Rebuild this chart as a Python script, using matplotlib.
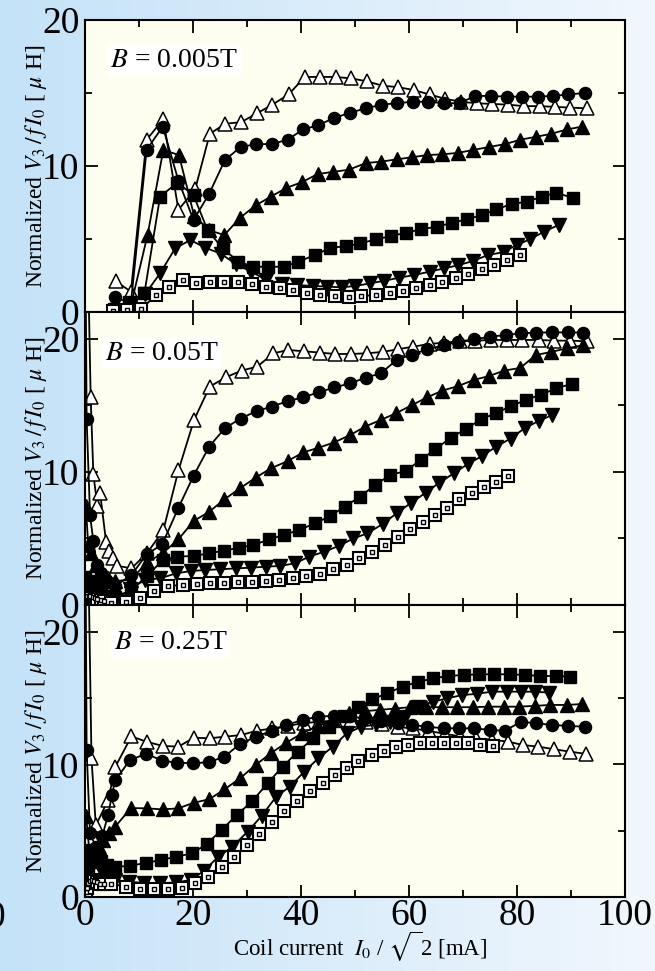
import numpy as np
import matplotlib
matplotlib.use('Agg')
import matplotlib.pyplot as plt
from matplotlib.ticker import MultipleLocator

plt.rcParams['font.family'] = ['Liberation Serif', 'DejaVu Serif']
plt.rcParams['mathtext.fontset'] = 'stix'

# ---------------- Panel 1 : B = 0.005 T ----------------
p1_ot_x = [5.7, 8.5, 11.4, 14.5, 17.3, 20.4, 23.1, 26.0, 28.9, 31.8, 34.7, 37.7, 40.7, 43.5, 46.4, 49.3, 52.2, 55.1, 58.0, 60.9, 63.8, 66.7, 69.6, 72.5, 75.4, 78.4, 81.3, 84.3, 87.0, 89.9, 92.9]
p1_ot_y = [2.1, 1.4, 11.8, 13.2, 7.0, 8.4, 12.2, 12.9, 13.0, 13.6, 14.2, 14.9, 16.1, 16.1, 16.1, 16.0, 15.8, 15.5, 15.4, 15.2, 14.9, 14.6, 14.4, 14.3, 14.25, 14.2, 14.1, 14.1, 14.05, 14.0, 13.95]
p1_fc_x = [5.6, 8.5, 11.4, 14.4, 17.3, 20.1, 23.0, 25.9, 28.8, 31.7, 34.6, 37.5, 40.4, 43.2, 46.2, 49.1, 52.0, 54.9, 57.7, 60.7, 63.6, 66.5, 69.4, 72.2, 75.1, 78.1, 80.9, 83.8, 86.7, 89.5, 92.5]
p1_fc_y = [1.0, 0.6, 11.1, 12.7, 9.0, 6.3, 8.1, 10.4, 11.3, 11.5, 11.5, 11.8, 12.5, 12.8, 13.3, 13.65, 13.95, 14.2, 14.3, 14.4, 14.4, 14.3, 14.3, 14.8, 14.8, 14.75, 14.75, 14.75, 14.8, 14.9, 15.0]
p1_ft_x = [5.6, 8.6, 11.6, 14.5, 17.4, 20.2, 23.0, 25.8, 28.7, 31.6, 34.4, 37.3, 40.2, 43.1, 46.0, 48.9, 52.0, 54.8, 57.7, 60.5, 63.4, 66.2, 69.1, 71.9, 74.8, 77.8, 80.6, 83.5, 86.3, 89.2, 92.1]
p1_ft_y = [0.3, 0.6, 5.3, 11.1, 10.75, 6.6, 5.6, 5.27, 6.45, 7.3, 7.9, 8.5, 8.9, 9.45, 9.6, 9.75, 10.2, 10.3, 10.45, 10.6, 10.75, 10.8, 10.9, 11.1, 11.3, 11.5, 11.8, 12.0, 12.2, 12.5, 12.7]
p1_fs_x = [5.4, 8.2, 11.0, 13.9, 17.1, 20.1, 22.7, 25.5, 28.4, 31.2, 33.9, 36.9, 39.5, 42.6, 45.4, 48.3, 51.0, 53.9, 56.7, 59.4, 62.2, 65.1, 67.9, 70.7, 73.5, 76.2, 79.0, 81.8, 84.6, 87.3, 90.4]
p1_fs_y = [0.2, 0.7, 1.28, 7.9, 8.86, 8.0, 5.6, 4.36, 3.45, 3.1, 3.1, 3.1, 3.45, 3.9, 4.4, 4.5, 4.7, 4.98, 5.2, 5.43, 5.66, 5.84, 6.1, 6.35, 6.64, 7.03, 7.4, 7.55, 7.9, 8.17, 7.8]
p1_fd_x = [5.5, 8.3, 11.1, 13.9, 16.7, 19.5, 22.3, 25.1, 27.9, 30.8, 33.6, 36.4, 39.2, 42.3, 44.8, 47.5, 50.0, 52.8, 55.4, 58.2, 60.9, 63.8, 66.5, 69.1, 71.9, 74.6, 77.5, 80.0, 82.4, 85.0, 87.7]
p1_fd_y = [0.0, 0.5, 1.2, 2.65, 4.36, 4.93, 4.4, 4.0, 3.3, 2.76, 2.19, 1.95, 1.85, 1.78, 1.74, 1.69, 1.78, 1.96, 2.14, 2.35, 2.53, 2.76, 2.99, 3.2, 3.5, 3.9, 4.1, 4.6, 4.98, 5.5, 5.96]
p1_ds_x = [5.1, 7.7, 10.4, 13.1, 15.6, 18.1, 20.6, 23.1, 25.7, 28.3, 30.9, 33.5, 36.1, 38.6, 41.2, 43.6, 46.3, 48.8, 51.2, 53.8, 56.4, 58.8, 61.3, 63.8, 66.2, 68.7, 71.0, 73.5, 75.8, 78.2, 80.6]
p1_ds_y = [0.1, 0.14, 0.18, 1.16, 1.74, 2.19, 2.0, 2.08, 2.08, 2.03, 1.9, 1.74, 1.62, 1.5, 1.28, 1.16, 1.1, 1.05, 1.1, 1.16, 1.28, 1.44, 1.62, 1.85, 2.08, 2.3, 2.6, 2.92, 3.2, 3.56, 3.9]

# ---------------- Panel 2 : B = 0.05 T ----------------
p2_ot_x = [0.55, 1.05, 1.55, 2.3, 2.8, 3.9, 4.5, 5.1, 5.9, 8.6, 11.5, 14.5, 17.3, 20.2, 23.1, 26.1, 29.0, 31.9, 34.9, 37.6, 40.6, 43.5, 46.3, 49.2, 52.2, 55.1, 57.9, 60.8, 63.8, 66.5, 69.4, 72.3, 75.2, 78.1, 81.0, 84.0, 86.9, 89.9, 92.9]
p2_ot_y = [26.0, 15.6, 9.8, 7.45, 8.4, 4.75, 4.08, 3.5, 2.95, 2.75, 3.9, 5.6, 10.1, 13.9, 16.4, 17.1, 17.6, 17.9, 18.9, 19.15, 19.05, 18.95, 18.85, 18.85, 18.9, 19.0, 19.2, 19.4, 19.6, 19.7, 19.8, 19.85, 19.9, 19.9, 19.9, 19.9, 19.85, 19.85, 19.8]
p2_fc_x = [0.1, 0.3, 0.93, 1.54, 2.2, 3.0, 4.0, 5.5, 8.6, 11.4, 14.3, 17.3, 20.1, 23.0, 25.9, 28.8, 31.8, 34.6, 37.5, 40.4, 43.3, 46.2, 49.1, 52.0, 54.8, 57.7, 60.5, 63.4, 66.4, 69.1, 72.1, 75.0, 77.9, 80.7, 83.6, 86.5, 89.4, 92.3]
p2_fc_y = [26.0, 14.0, 6.76, 4.8, 3.0, 2.4, 1.8, 1.4, 2.25, 3.8, 4.55, 7.3, 9.7, 11.9, 13.27, 14.0, 14.56, 14.9, 15.3, 15.6, 15.97, 16.34, 16.64, 17.07, 17.4, 18.4, 18.8, 19.2, 19.5, 19.77, 19.95, 20.14, 20.27, 20.4, 20.45, 20.47, 20.47, 20.45]
p2_ft_x = [0.15, 0.6, 1.2, 2.0, 3.0, 4.2, 5.6, 8.5, 11.5, 14.4, 17.3, 20.1, 23.0, 25.8, 28.7, 31.6, 34.4, 37.5, 40.4, 43.2, 46.1, 49.1, 51.9, 54.8, 57.6, 60.5, 63.4, 66.2, 69.1, 72.0, 74.9, 77.6, 80.6, 83.5, 86.3, 89.2, 92.2]
p2_ft_y = [7.4, 4.5, 3.9, 3.0, 2.5, 2.0, 1.8, 1.9, 3.2, 3.9, 4.93, 6.3, 7.0, 7.93, 8.76, 9.56, 10.26, 10.8, 11.46, 11.8, 12.2, 12.76, 13.4, 13.9, 14.4, 15.0, 15.6, 16.1, 16.44, 16.9, 17.2, 17.6, 17.8, 18.77, 19.0, 19.27, 19.5]
p2_fs_x = [0.05, 0.5, 1.2, 2.2, 3.5, 5.5, 8.5, 11.5, 14.4, 17.1, 20.1, 23.0, 25.7, 28.5, 31.2, 34.1, 36.9, 39.6, 42.6, 45.4, 48.1, 50.9, 53.7, 56.5, 59.4, 62.2, 64.9, 67.7, 70.5, 73.3, 76.1, 78.9, 81.7, 84.4, 87.3, 90.1]
p2_fs_y = [2.1, 1.6, 1.2, 0.9, 0.7, 0.6, 1.1, 2.18, 3.38, 3.63, 3.68, 3.88, 4.08, 4.3, 4.5, 4.93, 5.26, 5.63, 6.13, 6.68, 7.38, 8.13, 9.0, 9.76, 10.06, 10.9, 11.7, 12.56, 13.2, 13.94, 14.4, 14.94, 15.4, 15.8, 16.27, 16.6]
p2_fd_x = [0.3, 1.0, 2.0, 3.2, 4.5, 5.8, 8.4, 11.1, 13.9, 16.9, 19.6, 22.3, 25.0, 27.9, 30.7, 33.5, 36.1, 38.9, 41.5, 44.3, 47.1, 49.7, 52.3, 55.1, 57.7, 60.4, 63.1, 65.6, 68.3, 70.9, 73.6, 76.1, 78.8, 81.4, 84.1, 86.5]
p2_fd_y = [1.3, 1.7, 1.4, 1.0, 0.6, 0.4, 1.2, 1.9, 2.0, 2.38, 2.55, 2.63, 2.68, 2.75, 2.8, 2.88, 2.93, 3.13, 3.63, 4.0, 4.45, 5.0, 5.38, 6.08, 6.88, 7.68, 8.43, 9.18, 9.89, 10.59, 11.2, 11.88, 12.5, 13.27, 13.84, 14.26]
p2_ds_x = [0.15, 0.4, 0.7, 1.0, 1.4, 1.8, 2.3, 2.9, 3.6, 4.9, 7.6, 10.2, 12.8, 15.4, 18.1, 20.7, 23.1, 25.8, 28.4, 30.9, 33.5, 35.9, 38.5, 41.0, 43.5, 46.0, 48.5, 50.8, 53.2, 55.6, 57.9, 60.2, 62.5, 64.8, 67.1, 69.3, 71.6, 73.9, 76.2, 78.4]
p2_ds_y = [0.8, 0.7, 0.6, 0.7, 0.6, 0.5, 0.45, 0.35, 0.3, 0.13, 0.2, 0.5, 1.05, 1.43, 1.5, 1.58, 1.63, 1.67, 1.7, 1.75, 1.8, 1.88, 2.0, 2.2, 2.33, 2.68, 3.0, 3.5, 4.0, 4.5, 5.08, 5.68, 6.25, 6.76, 7.26, 7.93, 8.39, 8.84, 9.26, 9.68]

# ---------------- Panel 3 : B = 0.25 T ----------------
p3_ot_x = [0.6, 1.2, 2.0, 4.3, 5.6, 8.6, 11.4, 14.4, 17.3, 20.2, 23.1, 25.9, 28.9, 31.8, 34.7, 37.6, 40.5, 43.4, 46.3, 49.2, 52.1, 55.0, 57.9, 60.8, 63.7, 66.6, 69.5, 72.4, 75.3, 78.4, 81.1, 83.9, 86.9, 89.8, 92.8]
p3_ot_y = [26.0, 10.45, 5.4, 7.3, 9.8, 12.1, 11.7, 11.38, 11.33, 12.0, 11.96, 12.08, 12.2, 12.53, 12.7, 12.9, 13.1, 13.2, 13.3, 13.3, 13.2, 13.0, 12.8, 12.7, 12.5, 12.3, 12.1, 11.95, 11.85, 11.7, 11.45, 11.33, 11.13, 10.95, 10.78]
p3_fc_x = [0.1, 0.3, 0.93, 2.0, 3.2, 4.3, 5.0, 5.6, 8.3, 11.3, 14.3, 17.1, 20.0, 22.9, 25.8, 28.7, 31.7, 34.6, 37.3, 40.3, 43.2, 46.1, 49.0, 51.9, 54.9, 58.0, 60.5, 63.4, 66.4, 69.3, 72.1, 75.0, 77.8, 80.7, 83.6, 86.5, 89.5, 92.5]
p3_fc_y = [26.0, 11.08, 4.8, 3.8, 4.6, 6.2, 7.7, 8.8, 10.3, 10.8, 10.27, 10.12, 10.08, 10.15, 10.57, 11.53, 12.08, 12.53, 12.96, 13.34, 13.59, 13.65, 13.6, 13.45, 13.25, 13.1, 12.96, 12.83, 12.71, 12.71, 12.71, 12.58, 12.53, 13.2, 13.09, 12.96, 12.89, 12.83]
p3_ft_x = [0.2, 0.8, 1.6, 2.5, 3.4, 4.5, 5.6, 8.5, 11.4, 14.4, 17.3, 20.1, 23.0, 25.8, 28.7, 31.6, 34.4, 37.3, 40.2, 43.1, 46.0, 48.9, 51.8, 54.6, 57.4, 60.2, 63.1, 66.1, 68.8, 71.8, 74.7, 77.5, 80.4, 83.3, 86.2, 89.2, 92.1]
p3_ft_y = [6.1, 3.5, 3.0, 3.8, 4.3, 4.8, 5.3, 6.7, 6.68, 6.6, 6.68, 7.1, 7.36, 8.1, 8.94, 9.95, 10.83, 11.63, 12.33, 12.89, 13.34, 13.89, 14.0, 14.1, 14.2, 14.3, 14.3, 14.3, 14.3, 14.3, 14.34, 14.34, 14.34, 14.4, 14.47, 14.47, 14.54]
p3_fs_x = [0.05, 0.6, 1.3, 2.1, 3.0, 4.0, 5.6, 8.3, 11.3, 14.1, 16.9, 19.9, 22.5, 25.3, 28.1, 31.0, 33.8, 36.6, 39.4, 42.3, 45.1, 47.9, 50.6, 53.2, 56.0, 58.8, 61.7, 64.5, 67.3, 70.2, 73.0, 75.8, 78.7, 81.5, 84.3, 87.2, 89.9]
p3_fs_y = [1.66, 2.0, 2.6, 3.0, 2.7, 2.4, 2.28, 2.34, 2.58, 2.79, 3.04, 3.29, 3.99, 5.05, 6.18, 7.23, 8.57, 9.82, 10.95, 11.96, 12.83, 13.6, 14.3, 14.9, 15.35, 15.85, 16.2, 16.48, 16.65, 16.73, 16.78, 16.78, 16.78, 16.73, 16.65, 16.65, 16.6]
p3_fd_x = [0.3, 1.0, 1.8, 2.7, 3.6, 4.5, 5.6, 8.2, 11.0, 13.9, 16.8, 19.6, 22.0, 24.7, 27.3, 30.1, 32.7, 35.4, 37.9, 40.6, 43.2, 45.9, 48.5, 51.2, 53.9, 56.5, 59.3, 61.7, 64.5, 67.1, 69.9, 72.5, 75.3, 78.1, 80.7, 83.3, 85.9]
p3_fd_y = [2.5, 3.5, 3.0, 2.2, 1.8, 1.5, 1.28, 1.15, 1.05, 1.03, 1.1, 1.28, 1.96, 3.04, 3.79, 4.92, 6.1, 7.56, 8.31, 9.44, 10.45, 11.33, 12.34, 12.83, 13.0, 13.2, 13.59, 14.34, 14.72, 14.97, 15.22, 15.3, 15.47, 15.47, 15.47, 15.47, 15.4]
p3_ds_x = [0.1, 0.3, 0.6, 0.9, 1.3, 1.7, 2.2, 2.8, 3.5, 4.9, 7.6, 10.2, 12.8, 15.3, 17.9, 20.4, 22.8, 25.3, 27.6, 30.0, 32.3, 34.6, 36.9, 39.3, 41.7, 44.0, 46.3, 48.6, 50.6, 53.1, 55.4, 57.6, 59.8, 62.0, 64.2, 66.5, 68.7, 71.0, 73.1, 75.5]
p3_ds_y = [0.4, 0.7, 1.03, 1.2, 1.3, 1.2, 1.1, 1.0, 0.95, 0.98, 0.78, 0.6, 0.6, 0.6, 0.66, 1.03, 1.53, 2.28, 3.04, 3.92, 4.75, 5.67, 6.5, 7.26, 8.0, 8.61, 9.19, 9.7, 10.27, 10.7, 11.02, 11.33, 11.45, 11.58, 11.58, 11.58, 11.58, 11.58, 11.45, 11.38]

panel_labels = [r"$B$ = 0.005T", r"$B$ = 0.05T", r"$B$ = 0.25T"]
xticks = [0, 20, 40, 60, 80, 100]
yticks = [0, 10, 20]
ylabel_text = r"Normalized $V_3\,/\,f\,I_0$ [ $\mu$ H]"
xlabel_text = r"Coil current  $I_0$ / $\sqrt{\;}$2 [mA]"

panels = [
    dict(ot=(p1_ot_x, p1_ot_y), fc=(p1_fc_x, p1_fc_y), ft=(p1_ft_x, p1_ft_y),
         fs=(p1_fs_x, p1_fs_y), fd=(p1_fd_x, p1_fd_y), ds=(p1_ds_x, p1_ds_y)),
    dict(ot=(p2_ot_x, p2_ot_y), fc=(p2_fc_x, p2_fc_y), ft=(p2_ft_x, p2_ft_y),
         fs=(p2_fs_x, p2_fs_y), fd=(p2_fd_x, p2_fd_y), ds=(p2_ds_x, p2_ds_y)),
    dict(ot=(p3_ot_x, p3_ot_y), fc=(p3_fc_x, p3_fc_y), ft=(p3_ft_x, p3_ft_y),
         fs=(p3_fs_x, p3_fs_y), fd=(p3_fd_x, p3_fd_y), ds=(p3_ds_x, p3_ds_y)),
]

W, H = 655, 971
fig = plt.figure(figsize=(W / 100, H / 100), dpi=100)

# background gradient
bg = fig.add_axes([0, 0, 1, 1], zorder=-10)
g = np.linspace(0, 1, 512)
left_c = np.array([196, 226, 248]) / 255.0
right_c = np.array([241, 247, 253]) / 255.0
img = left_c[None, None, :] * (1 - g[None, :, None]) + right_c[None, None, :] * g[None, :, None]
img = np.repeat(img, 4, axis=0)
bg.imshow(img, aspect='auto', extent=[0, 1, 0, 1], interpolation='bilinear')
bg.set_axis_off()

ax_left, ax_right = 85, 625
bounds = [(20, 312), (312, 605), (605, 897)]
ylims = [(0, 20), (0, 22), (0, 22)]
label_pos = [(0.165, 0.862), (0.142, 0.860), (0.159, 0.873)]

line_kw = dict(color='black', lw=1.3)
for i, (pd_, (top, bot)) in enumerate(zip(panels, bounds)):
    ax = fig.add_axes([ax_left / W, 1 - bot / H, (ax_right - ax_left) / W, (bot - top) / H])
    ax.set_facecolor('#fefef0')
    ax.set_xlim(0, 100)
    ax.set_ylim(*ylims[i])

    x, y = pd_['ot']
    ax.plot(x, y, marker='^', ms=10, mfc='white', mec='black', mew=1.1, **line_kw)
    x, y = pd_['fc']
    ax.plot(x, y, marker='o', ms=8.7, mfc='black', mec='black', **line_kw)
    x, y = pd_['ft']
    ax.plot(x, y, marker='^', ms=10, mfc='black', mec='black', **line_kw)
    x, y = pd_['fs']
    ax.plot(x, y, marker='s', ms=8.5, mfc='black', mec='black', **line_kw)
    x, y = pd_['fd']
    ax.plot(x, y, marker='v', ms=10, mfc='black', mec='black', **line_kw)
    x, y = pd_['ds']
    ax.plot(x, y, marker='s', ms=8.2, mfc='white', mec='black', mew=1.5, **line_kw)
    ax.plot(x, y, ls='none', marker='s', ms=3.4, mfc='white', mec='black', mew=1.0)

    ax.set_xticks(xticks)
    ax.xaxis.set_minor_locator(MultipleLocator(10))
    ax.set_yticks(yticks)
    ax.yaxis.set_minor_locator(MultipleLocator(5))
    ax.tick_params(which='both', direction='in', top=True, right=True, width=1.3)
    ax.tick_params(which='major', length=9, labelsize=27)
    ax.tick_params(which='minor', length=5)
    ax.tick_params(axis='x', pad=1)
    ax.tick_params(axis='y', pad=4)
    if i < 2:
        ax.tick_params(axis='x', labelbottom=False)
    for s in ax.spines.values():
        s.set_linewidth(1.5)

    ax.text(label_pos[i][0], label_pos[i][1], panel_labels[i], transform=ax.transAxes,
            ha='center', va='center', fontsize=20,
            bbox=dict(facecolor='white', edgecolor='none', pad=2))

    fig.text(36 / W, 1 - ((top + bot) / 2) / H, ylabel_text, rotation=90,
             ha='center', va='center', fontsize=17)

fig.text(360 / W, 1 - 947 / H, xlabel_text, ha='center', va='center', fontsize=16.5)
fig.text(-4 / W, 1 - 918 / H, "0", ha='center', va='center', fontsize=27)

fig.savefig('out.png', dpi=100)
